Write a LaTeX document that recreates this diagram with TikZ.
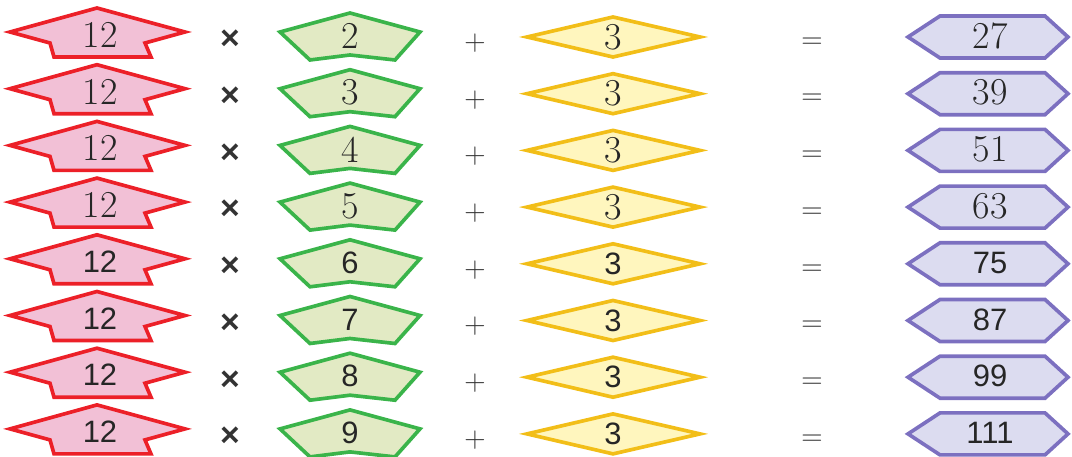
\documentclass[tikz,border=0pt]{standalone}
\usepackage{fontspec}
\newfontfamily\digitSans{Liberation Sans}
\usetikzlibrary{positioning}

\definecolor{arrowRed}{RGB}{236,32,40}
\definecolor{arrowPink}{RGB}{242,192,214}
\definecolor{penGreen}{RGB}{58,180,74}
\definecolor{penFill}{RGB}{226,234,196}
\definecolor{gemGold}{RGB}{242,190,24}
\definecolor{gemFill}{RGB}{255,246,190}
\definecolor{hexPurple}{RGB}{124,112,192}
\definecolor{hexFill}{RGB}{220,220,240}

\newcommand\serifNum{\rmfamily\fontsize{27}{29}\selectfont}
\newcommand\sansNum{\digitSans\fontsize{22}{24}\selectfont}

\begin{document}
\begin{tikzpicture}[
        x=0.025cm, y=-0.025cm,
        shapeLine/.style={
            line width=2.6pt,
            line join=miter
        },
        redShape/.style={shapeLine, draw=arrowRed, fill=arrowPink},
        greenShape/.style={shapeLine, draw=penGreen, fill=penFill},
        goldShape/.style={shapeLine, draw=gemGold, fill=gemFill},
        purpleShape/.style={shapeLine, draw=hexPurple, fill=hexFill},
        numText/.style={inner sep=0pt, text=black!85},
        opText/.style={inner sep=0pt, text=black!80}
    ]

        \useasboundingbox (0,0) rectangle (1072,457);

        % One row per multiplier
        \foreach \g/\res/\fnt [count=\i] in {
            2/27/\serifNum, 3/39/\serifNum, 4/51/\serifNum,
            5/63/\serifNum, 6/75/\sansNum, 7/87/\sansNum,
            8/99/\sansNum, 9/111/\sansNum}
        {
            \pgfmathsetmacro\rowY{35+(\i-1)*56.7}
            \begin{scope}[shift={(0,\rowY)}]

                % Arrow with the factor 12
                \draw[redShape]
                    (97,-27) -- (185,-3) -- (145,8) -- (151,22)
                    -- (54,22) -- (50,8) -- (10,-3) -- cycle;
                \node[numText, font=\fnt] (red\i) at (100,0) {12};

                % Times sign
                \node[opText, font=\digitSans\bfseries\fontsize{24}{24}\selectfont]
                    (times\i) at (230,5) {×};

                % Pentagon with the multiplier
                \draw[greenShape]
                    (350,-22) -- (420,-3) -- (395,25) -- (350,20)
                    -- (310,25) -- (280,-3) -- cycle;
                \node[numText, font=\fnt] (green\i) at (350,1) {\g};

                % Plus sign
                \node[opText, font=\rmfamily\fontsize{21}{21}\selectfont]
                    (plus\i) at (475,8) {+};

                % Diamond with the added 3
                \draw[goldShape]
                    (527,2) -- (613,-18) -- (700,2) -- (613,22) -- cycle;
                \node[numText, font=\fnt] (gold\i) at (613,2) {3};

                % Equals sign
                \node[opText, font=\rmfamily\fontsize{21}{21}\selectfont]
                    (equals\i) at (812,8) {=};

                % Hexagon with the result
                \draw[purpleShape]
                    (908,2) -- (940,-19) -- (1045,-19) -- (1068,2)
                    -- (1045,23) -- (940,23) -- cycle;
                \node[numText, font=\fnt] (result\i) at (990,1) {\res};
            \end{scope}
        }

    \end{tikzpicture}
\end{document}
